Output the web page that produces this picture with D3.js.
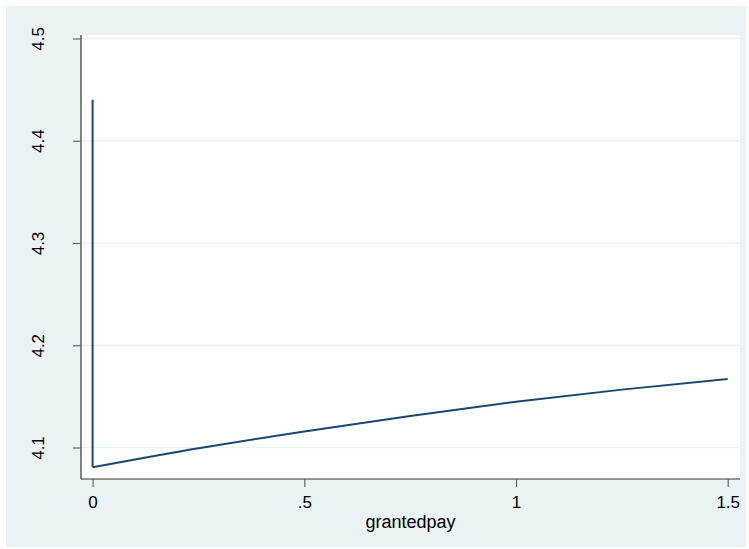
<!DOCTYPE html>
<html>
<head>
<meta charset="utf-8">
<script src="https://cdn.jsdelivr.net/npm/d3@7"></script>
<style>
  html, body { margin: 0; padding: 0; background: #ffffff; }
  svg { display: block; }
  text { font-family: "Liberation Sans", Arial, Helvetica, sans-serif; fill: #000; }
</style>
</head>
<body>
<svg id="chart" width="749" height="549"></svg>
<script>
// ---- data ----
const grantedpay = [0, 0, 0.25, 0.5, 0.75, 1, 1.25, 1.5];
const prediction = [4.44, 4.0806, 4.0992, 4.1157, 4.1309, 4.1447, 4.1566, 4.1670];
const xTicks = [0, 0.5, 1, 1.5];
const xTickLabels = ["0", ".5", "1", "1.5"];
const yTicks = [4.1, 4.2, 4.3, 4.4, 4.5];
const yTickLabels = ["4.1", "4.2", "4.3", "4.4", "4.5"];
const xTitle = "grantedpay";

// ---- layout ----
const plot = { left: 81, right: 740, top: 35, bottom: 479 };

const svg = d3.select("#chart");

// outer graph region
svg.append("rect").attr("x", 6).attr("y", 6).attr("width", 740).attr("height", 541)
  .attr("fill", "#eaf2f3");
// plot region
svg.append("rect").attr("x", plot.left).attr("y", plot.top)
  .attr("width", plot.right - plot.left).attr("height", plot.bottom - plot.top)
  .attr("fill", "#ffffff");

const x = d3.scaleLinear().domain([-0.0274, 1.529]).range([plot.left, plot.right]);
const y = d3.scaleLinear().domain([4.0692, 4.5034]).range([plot.bottom, plot.top]);

// gridlines
svg.append("g").selectAll("line").data(yTicks).join("line")
  .attr("x1", plot.left).attr("x2", plot.right)
  .attr("y1", d => y(d)).attr("y2", d => y(d))
  .attr("stroke", "#eaf2f3").attr("stroke-width", 1.5);

// y axis
const yAxis = d3.axisLeft(y).tickValues(yTicks)
  .tickFormat((d, i) => yTickLabels[i]).tickSize(8).tickPadding(0);
const gy = svg.append("g").attr("transform", `translate(${plot.left},0)`).call(yAxis);
gy.select(".domain").attr("stroke", "#333").attr("stroke-width", 1.2)
  .attr("d", `M0,${plot.top}V${plot.bottom}`);
gy.selectAll(".tick line").attr("stroke", "#666").attr("stroke-width", 1.2);
gy.selectAll(".tick text")
  .attr("x", 0).attr("y", 0)
  .attr("transform", "translate(-37.5,0) rotate(-90)")
  .attr("text-anchor", "middle").attr("dy", 0)
  .attr("font-size", 17).attr("fill", "#000")
  .style("font-family", "'Liberation Sans', Arial, sans-serif");

// x axis
const xAxis = d3.axisBottom(x).tickValues(xTicks)
  .tickFormat((d, i) => xTickLabels[i]).tickSize(8).tickPadding(0);
const gx = svg.append("g").attr("transform", `translate(0,${plot.bottom})`).call(xAxis);
gx.select(".domain").attr("stroke", "#333").attr("stroke-width", 1.2)
  .attr("d", `M${plot.left},0H${plot.right}`);
gx.selectAll(".tick line").attr("stroke", "#666").attr("stroke-width", 1.2);
gx.selectAll(".tick text")
  .attr("y", 29).attr("dy", 0)
  .attr("font-size", 17).attr("fill", "#000")
  .style("font-family", "'Liberation Sans', Arial, sans-serif");

// x title
svg.append("text")
  .attr("x", (plot.left + plot.right) / 2).attr("y", 528)
  .attr("text-anchor", "middle").attr("font-size", 18)
  .text(xTitle);

// line
const pts = grantedpay.map((d, i) => [d, prediction[i]]);
const lineGen = d3.line().x(d => x(d[0])).y(d => y(d[1])).curve(d3.curveMonotoneX);
svg.append("path")
  .datum(pts.slice(1))
  .attr("fill", "none").attr("stroke", "#1a476f").attr("stroke-width", 2)
  .attr("d", lineGen);
svg.append("path")
  .datum(pts.slice(0, 2))
  .attr("fill", "none").attr("stroke", "#1a476f").attr("stroke-width", 2)
  .attr("d", d3.line().x(d => x(d[0])).y(d => y(d[1])));
</script>
</body>
</html>
